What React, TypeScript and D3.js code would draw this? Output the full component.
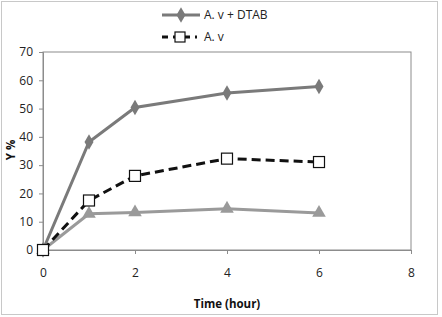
import React, { useEffect, useRef } from 'react';
import * as d3 from 'd3';

const hours = [0, 1, 2, 4, 6];
const dtab = [0, 38.2, 50.4, 55.5, 57.8];
const av = [0, 17.5, 26.2, 32.3, 31.1];
const third = [0, 12.8, 13.3, 14.6, 13.1];
const xTicks = [0, 2, 4, 6, 8];
const yTicks = [0, 10, 20, 30, 40, 50, 60, 70];

const W = 442;
const H = 317;

const App: React.FC = () => {
  const svgRef = useRef<SVGSVGElement>(null);

  useEffect(() => {
    if (!svgRef.current) return;
    const svg = d3.select(svgRef.current);
    svg.selectAll('*').remove();

    const font = "'Open Sans', 'Liberation Sans', sans-serif";
    const left = 43, right = 411, top = 52, bottom = 250;

    const x = d3.scaleLinear().domain([0, 8]).range([left, right]);
    const y = d3.scaleLinear().domain([0, 70]).range([bottom, top]);

    // outer border
    svg.append('rect')
      .attr('x', 1.5).attr('y', 1.5).attr('width', W - 6).attr('height', H - 4)
      .attr('fill', 'white').attr('stroke', '#c8c8c8');

    // plot frame
    svg.append('rect')
      .attr('x', left).attr('y', top).attr('width', right - left).attr('height', bottom - top)
      .attr('fill', 'none').attr('stroke', '#8c8c8c');

    const gx = svg.append('g').attr('transform', `translate(0,${bottom})`)
      .call(d3.axisBottom(x).tickValues(xTicks).tickSize(4).tickPadding(14));
    gx.select('.domain').attr('stroke', '#8c8c8c');
    gx.selectAll('line').attr('stroke', '#8c8c8c');
    gx.selectAll('text').attr('font-family', font).attr('font-size', 12).attr('fill', '#222');

    const gy = svg.append('g').attr('transform', `translate(${left},0)`)
      .call(d3.axisLeft(y).tickValues(yTicks).tickSize(4).tickPadding(6));
    gy.select('.domain').attr('stroke', '#8c8c8c');
    gy.selectAll('line').attr('stroke', '#8c8c8c');
    gy.selectAll('text').attr('font-family', font).attr('font-size', 12).attr('fill', '#222');

    const line = d3.line<number>().x((_, i) => x(hours[i])).y(d => y(d));

    // third series (light gray, triangles)
    svg.append('path').datum(third).attr('d', line)
      .attr('fill', 'none').attr('stroke', '#9a9a9a').attr('stroke-width', 3);
    svg.append('g').selectAll('path').data(third).join('path')
      .attr('d', d3.symbol(d3.symbolTriangle, 80)())
      .attr('transform', (d, i) => `translate(${x(hours[i])},${y(d)})`)
      .attr('fill', '#9a9a9a');

    // DTAB
    svg.append('path').datum(dtab).attr('d', line)
      .attr('fill', 'none').attr('stroke', '#7a7a7a').attr('stroke-width', 3);
    svg.append('g').selectAll('path').data(dtab).join('path')
      .attr('d', d3.symbol(d3.symbolDiamond, 70)())
      .attr('transform', (d, i) => `translate(${x(hours[i])},${y(d)})`)
      .attr('fill', '#7a7a7a');

    // A. v
    svg.append('path').datum(av).attr('d', line)
      .attr('fill', 'none').attr('stroke', '#111').attr('stroke-width', 3)
      .attr('stroke-dasharray', '9,5');
    svg.append('g').selectAll('rect').data(av).join('rect')
      .attr('x', (d, i) => x(hours[i]) - 5.5).attr('y', d => y(d) - 5.5)
      .attr('width', 11).attr('height', 11)
      .attr('fill', 'white').attr('stroke', '#111').attr('stroke-width', 1.2);

    // legend
    const lg = svg.append('g');
    lg.append('line').attr('x1', 162).attr('x2', 200).attr('y1', 15).attr('y2', 15)
      .attr('stroke', '#7a7a7a').attr('stroke-width', 3);
    lg.append('path').attr('d', d3.symbol(d3.symbolDiamond, 70)())
      .attr('transform', 'translate(181,15)').attr('fill', '#7a7a7a');
    lg.append('text').attr('x', 204).attr('y', 19).text('A. v + DTAB')
      .attr('font-family', font).attr('font-size', 12).attr('fill', '#222');

    lg.append('line').attr('x1', 162).attr('x2', 197).attr('y1', 37).attr('y2', 37)
      .attr('stroke', '#111').attr('stroke-width', 3).attr('stroke-dasharray', '6,5');
    lg.append('rect').attr('x', 175).attr('y', 32).attr('width', 10).attr('height', 10)
      .attr('fill', 'white').attr('stroke', '#111').attr('stroke-width', 1.2);
    lg.append('text').attr('x', 204).attr('y', 41).text('A. v')
      .attr('font-family', font).attr('font-size', 12).attr('fill', '#222');

    // axis titles
    svg.append('text').attr('x', 227).attr('y', 308).attr('text-anchor', 'middle')
      .attr('font-family', font).attr('font-size', 11.5).attr('font-weight', 'bold')
      .attr('fill', '#111').text('Time (hour)');
    svg.append('text').attr('transform', 'translate(15,150) rotate(-90)')
      .attr('text-anchor', 'middle')
      .attr('font-family', font).attr('font-size', 11.5).attr('font-weight', 'bold')
      .attr('fill', '#111').text('Y %');
  }, []);

  return (
    <svg ref={svgRef} width={W} height={H}
      style={{ position: 'absolute', left: 0, top: 0, display: 'block' }} />
  );
};

export default App;
